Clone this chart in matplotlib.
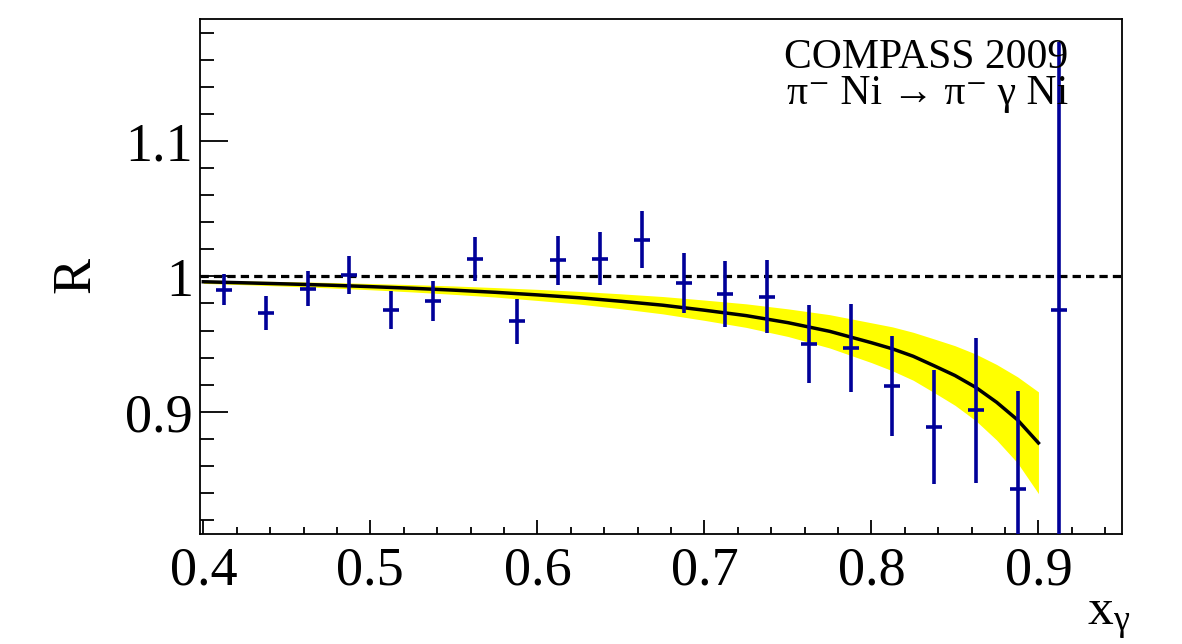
import numpy as np
import matplotlib
matplotlib.use('Agg')
import matplotlib.pyplot as plt
from matplotlib.ticker import MultipleLocator, FuncFormatter

plt.rcParams['font.family'] = ['Liberation Serif', 'DejaVu Serif']
plt.rcParams['mathtext.fontset'] = 'custom'
plt.rcParams['mathtext.rm'] = 'Liberation Serif'
plt.rcParams['mathtext.it'] = 'Liberation Serif'
plt.rcParams['mathtext.default'] = 'rm'

# data points (bin centres, ratio, error)
x_pts = [0.4125, 0.4375, 0.4625, 0.4875, 0.5125, 0.5375, 0.5625, 0.5875, 0.6125, 0.6375,
         0.6625, 0.6875, 0.7125, 0.7375, 0.7625, 0.7875, 0.8125, 0.8375, 0.8625, 0.8875, 0.9125]
r_pts = [0.990, 0.973, 0.991, 1.001, 0.975, 0.982, 1.013, 0.967, 1.012, 1.013,
         1.027, 0.995, 0.987, 0.985, 0.950, 0.947, 0.919, 0.889, 0.901, 0.843, 0.975]
r_err = [0.0115, 0.0123, 0.0127, 0.0137, 0.0141, 0.0149, 0.0163, 0.0166, 0.0181, 0.0195,
         0.0210, 0.0222, 0.0242, 0.0267, 0.0288, 0.0327, 0.0370, 0.0422, 0.0533, 0.0727, 0.198]

# fit curve and its uncertainty band
x_fit = [0.400, 0.425, 0.450, 0.475, 0.500, 0.525, 0.550, 0.575, 0.600, 0.625, 0.650, 0.675,
         0.700, 0.725, 0.750, 0.775, 0.800, 0.8125, 0.825, 0.8375, 0.850, 0.8625, 0.875, 0.8875, 0.900]
r_fit = [0.9960, 0.9952, 0.9944, 0.9935, 0.9924, 0.9912, 0.9898, 0.9882, 0.9863, 0.9842, 0.9816, 0.9787,
         0.9750, 0.9710, 0.9658, 0.9594, 0.9510, 0.9465, 0.9410, 0.9340, 0.9268, 0.9180, 0.9070, 0.8940, 0.8770]
band_hi = [0.9972, 0.9966, 0.9961, 0.9955, 0.9947, 0.9939, 0.9929, 0.9917, 0.9904, 0.9889, 0.9871, 0.9851,
           0.9825, 0.9797, 0.9760, 0.9717, 0.9657, 0.9627, 0.9587, 0.9538, 0.9488, 0.9426, 0.9349, 0.9258, 0.9147]
band_lo = [0.9948, 0.9938, 0.9927, 0.9915, 0.9901, 0.9885, 0.9867, 0.9847, 0.9822, 0.9795, 0.9761, 0.9723,
           0.9675, 0.9623, 0.9556, 0.9471, 0.9363, 0.9303, 0.9233, 0.9142, 0.9048, 0.8934, 0.8791, 0.8622, 0.8396]

fig = plt.figure(figsize=(11.82, 6.44), dpi=100)
ax = fig.add_axes([0.1692, 0.1713, 0.7800, 0.7992])

ax.fill_between(x_fit, band_lo, band_hi, color='#ffff00', lw=0, zorder=1)
ax.plot(x_fit, r_fit, color='black', lw=2.5, zorder=2)
ax.axhline(1.0, color='black', lw=2.3, ls=(0, (2.6, 1.6)), zorder=2)
ax.errorbar(x_pts, r_pts, yerr=r_err, fmt='_', color='#000099', ecolor='#000099',
            elinewidth=2.6, markersize=11, markeredgewidth=2.6, capsize=0, zorder=3)

ax.set_xlim(0.398, 0.95)
ax.set_ylim(0.81, 1.19)

ax.xaxis.set_major_locator(MultipleLocator(0.1))
ax.xaxis.set_minor_locator(MultipleLocator(0.02))
ax.yaxis.set_major_locator(MultipleLocator(0.1))
ax.yaxis.set_minor_locator(MultipleLocator(0.02))
fmt = FuncFormatter(lambda v, p: '%g' % round(v, 3))
ax.xaxis.set_major_formatter(fmt)
ax.yaxis.set_major_formatter(fmt)

ax.tick_params(axis='both', which='both', direction='in', top=False, right=False,
               labelsize=39, width=1.3, color='black')
ax.tick_params(axis='x', which='major', length=10, pad=9)
ax.tick_params(axis='x', which='minor', length=5)
ax.tick_params(axis='y', which='major', length=20, pad=5)
ax.tick_params(axis='y', which='minor', length=10)
for s in ax.spines.values():
    s.set_linewidth(1.3)

fig.text(76 / 1182, 1 - 275 / 644, 'R', rotation=90, fontsize=39, ha='center', va='center')
fig.text(1130 / 1182, 1 - 625 / 644, r'$\mathrm{x}_{\gamma}$', fontsize=37, ha='right', va='baseline')

fig.text(926 / 1182, 1 - 68 / 644, 'COMPASS 2009', fontsize=30, ha='center', va='baseline')
fig.text(928 / 1182, 1 - 104 / 644, 'π⁻ Ni → π⁻ γ Ni',
         fontsize=30, ha='center', va='baseline')

fig.savefig('out.png', dpi=100)
